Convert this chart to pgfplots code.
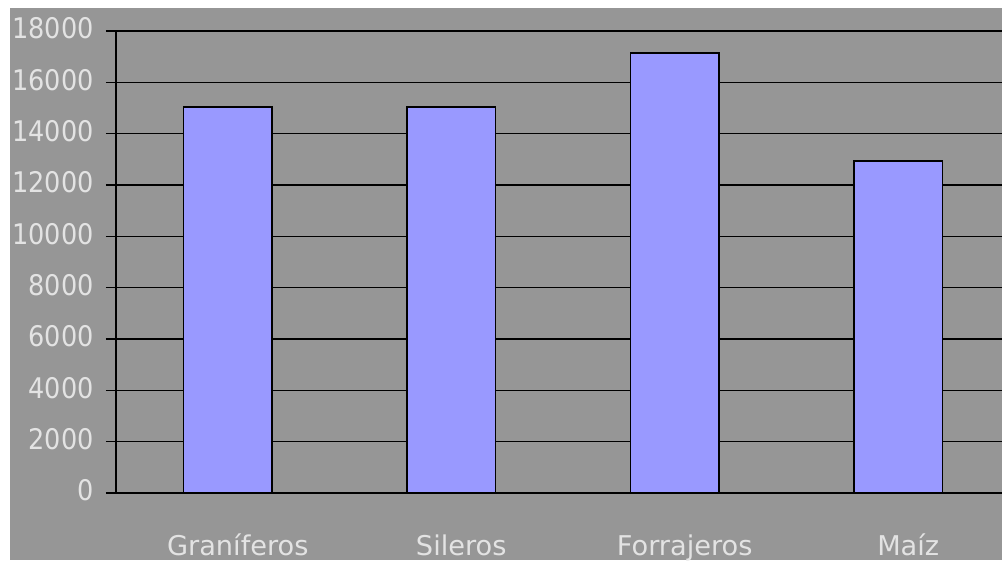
\documentclass[border=0pt]{standalone}
\usepackage{pgfplots}
\pgfplotsset{compat=1.18}
\usepackage{fontspec}
\setmainfont{DejaVu Sans Condensed}
\newfontfamily\xfont{DejaVu Sans}
\definecolor{bg}{HTML}{969696}
\definecolor{barc}{HTML}{9999FF}
\definecolor{txt}{HTML}{E3E3E3}
\begin{document}
\begin{tikzpicture}
\clip (0,0) rectangle (751.5pt,420pt);
\fill[white] (0,0) rectangle (751.5pt,420pt);
\fill[bg] (7.5pt,0) rectangle (751.5pt,414pt);
\begin{axis}[
 at={(87pt,50.25pt)}, anchor=south west,
 scale only axis, width=670.5pt, height=346.5pt,
 xmin=-0.5, xmax=3.5, ymin=0, ymax=18000,
 ybar, bar width=66.4pt, bar shift=0pt,
 xtick={0,1,2,3}, xticklabels={Graníferos,Sileros,Forrajeros,Maíz},
 minor xtick={-0.5,0.5,1.5,2.5,3.5},
 ytick={0,2000,...,18000},
 ymajorgrids, major grid style={black, line width=0.8pt},
 axis line style={black, line width=1.5pt},
 tick align=outside, tick pos=left,
 major tick length=7.5pt, minor tick length=7.5pt,
 xtick style={draw=none},
 minor x tick style={black, line width=0.8pt},
 ytick style={black, line width=0.8pt},
 scaled y ticks=false,
 yticklabel style={/pgf/number format/fixed, /pgf/number format/1000 sep={}},
 /pgf/number format/assume math mode=true,
 ticklabel style={text=txt},
 yticklabel style={font=\fontsize{21.3pt}{25pt}\selectfont, anchor=east, inner sep=0pt, xshift=-9pt, yshift=2pt},
 xticklabel style={font=\xfont\fontsize{20.4pt}{24pt}\selectfont, anchor=base, inner sep=0pt, xshift=7.5pt, yshift=-39pt},
]
\addplot[fill=barc, draw=black, line width=1.3pt] coordinates {(0,15030) (1,15030) (2,17140) (3,12930)};
\end{axis}
\end{tikzpicture}
\end{document}
